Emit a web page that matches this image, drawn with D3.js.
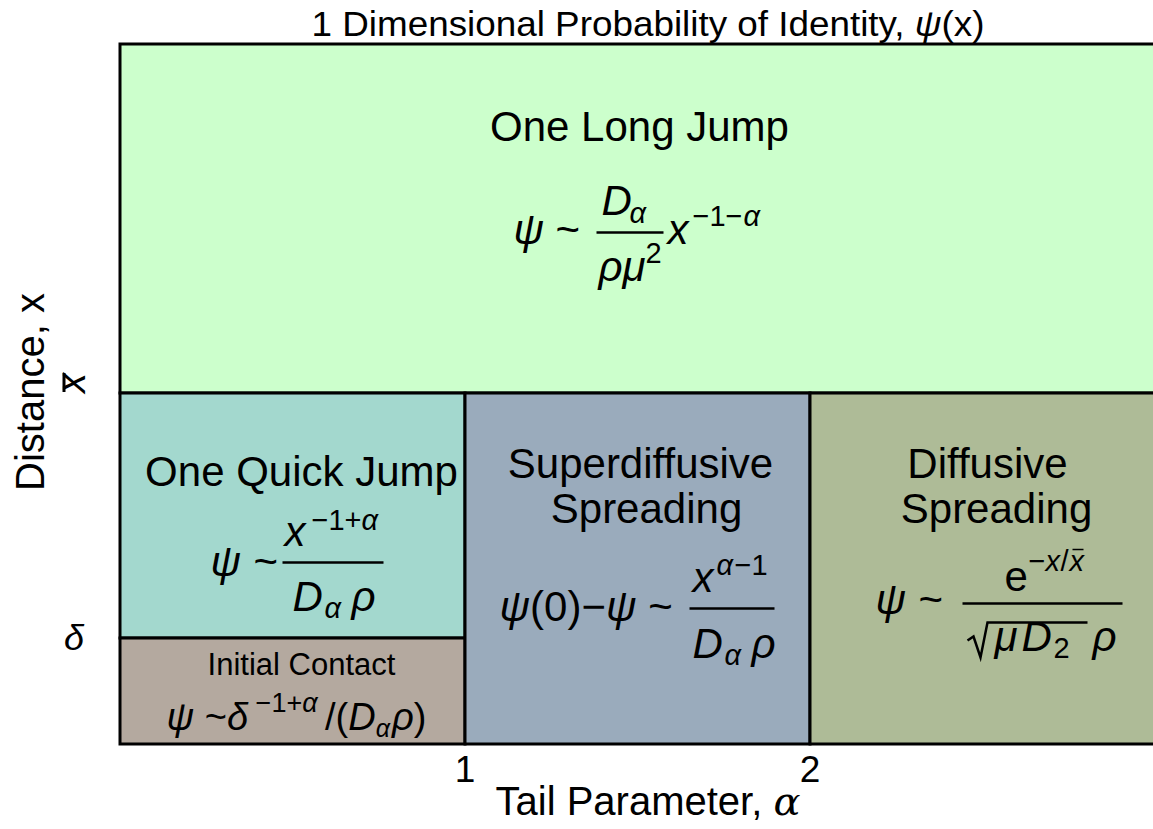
<!DOCTYPE html>
<html>
<head>
<meta charset="utf-8">
<script src="https://cdn.jsdelivr.net/npm/d3@7"></script>
<style>
  html, body { margin: 0; padding: 0; background: #fff; }
  svg text { font-family: "Liberation Sans", Arial, Helvetica, sans-serif; fill: #000; }
</style>
</head>
<body>
<svg id="chart" width="1153" height="829"></svg>
<script>
// Regime boundaries along the tail parameter (alpha) axis
const alphaBreaks = [0, 1, 2, 3];
const alphaTicks = [1, 2];
const alphaTickLabels = ["1", "2"];

// Distance levels (normalised): 0 = origin, then delta, then x-bar, then the top
const distLevels = [0, 0.1514, 0.5014, 1];
const distTickLabels = ["δ", "x̄"];

// Regimes: alpha span, distance span, fill, name lines
const regimeNames = ["One Long Jump", "One Quick Jump", "Initial Contact", "Superdiffusive Spreading", "Diffusive Spreading"];
const regimeAlpha = [[0, 3], [0, 1], [0, 1], [1, 2], [2, 3]];
const regimeDist = [[2, 3], [1, 2], [0, 1], [0, 2], [0, 2]];
const regimeFill = ["#ccffcc", "#a3d8ce", "#b4a99f", "#9aabbc", "#aebb97"];

const svg = d3.select("#chart");
const x = d3.scaleLinear().domain([alphaBreaks[0], alphaBreaks[3]]).range([120, 1155]);
const y = d3.scaleLinear().domain([0, 1]).range([744, 44]);

const regions = regimeNames.map((n, i) => ({
  name: n,
  a0: regimeAlpha[i][0], a1: regimeAlpha[i][1],
  d0: distLevels[regimeDist[i][0]], d1: distLevels[regimeDist[i][1]],
  fill: regimeFill[i]
}));

svg.append("g").selectAll("rect").data(regions).join("rect")
  .attr("x", d => x(d.a0))
  .attr("y", d => y(d.d1))
  .attr("width", d => x(d.a1) - x(d.a0))
  .attr("height", d => y(d.d0) - y(d.d1))
  .attr("fill", d => d.fill)
  .attr("stroke", "#000")
  .attr("stroke-width", 3);

// helpers for formula pieces
function t(g, px, py, str, size, opts = {}) {
  return g.append("text")
    .attr("x", px).attr("y", py)
    .attr("font-size", size)
    .attr("font-style", opts.italic ? "italic" : "normal")
    .attr("text-anchor", opts.anchor || "start")
    .text(str);
}
function hline(g, x0, x1, yy, w = 2.5) {
  g.append("line").attr("x1", x0).attr("x2", x1).attr("y1", yy).attr("y2", yy)
    .attr("stroke", "#000").attr("stroke-width", w);
}
const center = d => [ (x(d.a0) + x(d.a1)) / 2, (y(d.d0) + y(d.d1)) / 2 ];

const L = 42, F = 42, S = 29;

// One Long Jump
{
  const [cx, cy] = center(regions[0]);
  const g = svg.append("g").attr("transform", `translate(${cx},${cy})`);
  t(g, 2, -78, "One Long Jump", L, { anchor: "middle" });
  t(g, -124, 25, "ψ", F, { italic: true });
  t(g, -82, 25, "~", F);
  hline(g, -41, 26, 14);
  t(g, -36, -4, "D", F, { italic: true });
  t(g, -8, 4, "α", S, { italic: true });
  t(g, -39, 62, "ρμ", F, { italic: true });
  t(g, 8, 44, "2", S);
  t(g, 30, 25, "x", F, { italic: true });
  t(g, 55, 7, "−1−", S);
  t(g, 106, 7, "α", S, { italic: true });
}

// One Quick Jump
{
  const [cx, cy] = center(regions[1]);
  const g = svg.append("g").attr("transform", `translate(${cx},${cy})`);
  t(g, 9, -30, "One Quick Jump", L, { anchor: "middle" });
  t(g, -82, 60, "ψ", F, { italic: true });
  t(g, -39, 60, "~", F);
  hline(g, -10, 91, 47);
  t(g, -8, 30, "x", F, { italic: true });
  t(g, 19, 14, "−1+", S);
  t(g, 69, 14, "α", S, { italic: true });
  t(g, 0, 95, "D", F, { italic: true });
  t(g, 32, 102, "α", S, { italic: true });
  t(g, 59, 95, "ρ", F, { italic: true });
}

// Initial Contact
{
  const [cx, cy] = center(regions[2]);
  const g = svg.append("g").attr("transform", `translate(${cx},${cy})`);
  t(g, 9, -16, "Initial Contact", 31, { anchor: "middle" });
  const line = g.append("text").attr("x", 4).attr("y", 39).attr("font-size", 38).attr("text-anchor", "middle");
  line.append("tspan").attr("font-style", "italic").text("ψ");
  line.append("tspan").text(" ~");
  line.append("tspan").attr("font-style", "italic").text("δ");
  line.append("tspan").attr("font-size", 27).attr("dy", -18).text(" −1+");
  line.append("tspan").attr("font-size", 27).attr("font-style", "italic").text("α ");
  line.append("tspan").attr("dy", 18).text("/(");
  line.append("tspan").attr("font-style", "italic").text("D");
  line.append("tspan").attr("font-size", 25).attr("font-style", "italic").attr("dy", 7).text("α");
  line.append("tspan").attr("font-style", "italic").attr("dy", -7).attr("dx", 2).text("ρ");
  line.append("tspan").text(")");
}

// Superdiffusive Spreading
{
  const [cx, cy] = center(regions[3]);
  const g = svg.append("g").attr("transform", `translate(${cx},${cy})`);
  t(g, 3, -91, "Superdiffusive", L, { anchor: "middle" });
  t(g, 9, -46, "Spreading", L, { anchor: "middle" });
  const lhs = g.append("text").attr("x", -138).attr("y", 52).attr("font-size", F);
  lhs.append("tspan").attr("font-style", "italic").text("ψ");
  lhs.append("tspan").text("(0)−");
  lhs.append("tspan").attr("font-style", "italic").text("ψ");
  lhs.append("tspan").text(" ~");
  hline(g, 52, 137, 40);
  t(g, 55, 23, "x", F, { italic: true });
  t(g, 79, 6, "α", S, { italic: true });
  t(g, 97, 6, "−1", S);
  t(g, 55, 89, "D", F, { italic: true });
  t(g, 87, 96, "α", S, { italic: true });
  t(g, 114, 89, "ρ", F, { italic: true });
}

// Diffusive Spreading
{
  const [cx, cy] = center(regions[4]);
  const g = svg.append("g").attr("transform", `translate(${cx},${cy})`);
  t(g, 5, -91, "Diffusive", L, { anchor: "middle" });
  t(g, 14, -46, "Spreading", L, { anchor: "middle" });
  t(g, -107, 45, "ψ", F, { italic: true });
  t(g, -64, 45, "~", F);
  hline(g, -20, 140, 35);
  t(g, 22, 22, "e", F);
  t(g, 46, 2, "−", S);
  t(g, 63, 2, "x", S, { italic: true });
  t(g, 78, 2, "/", S);
  t(g, 87, 2, "x", S, { italic: true });
  hline(g, 90, 101, -19, 1.5);
  g.append("path")
    .attr("d", "M-15,72 L-9,68 L-2,89 L5,54 L105,54")
    .attr("fill", "none").attr("stroke", "#000").attr("stroke-width", 2.5);
  t(g, 12, 82, "μ", F, { italic: true });
  t(g, 39, 82, "D", F, { italic: true });
  t(g, 71, 89, "2", S);
  t(g, 110, 82, "ρ", F, { italic: true });
}

// Bottom axis: ticks and label
svg.append("g").selectAll("text").data(alphaTicks).join("text")
  .attr("x", d => x(d)).attr("y", 782)
  .attr("font-size", 37).attr("text-anchor", "middle")
  .text((d, i) => alphaTickLabels[i]);

const xl = svg.append("text").attr("x", 648).attr("y", 815).attr("font-size", 40).attr("text-anchor", "middle");
xl.append("tspan").text("Tail Parameter, ");
xl.append("tspan").attr("font-family", "DejaVu Serif, serif").attr("font-style", "italic").text("α");

// Left axis: rotated title and level labels
svg.append("text")
  .attr("transform", `translate(44,${y(0.5) - 2}) rotate(-90)`)
  .attr("font-size", 40).attr("text-anchor", "middle")
  .text("Distance, x");

svg.append("text")
  .attr("transform", `translate(85,${y(distLevels[2]) - 10}) rotate(-90)`)
  .attr("font-size", 40).attr("font-style", "italic").attr("text-anchor", "middle")
  .text("x");
svg.append("line")
  .attr("x1", 64).attr("x2", 64)
  .attr("y1", y(distLevels[2]) - 20).attr("y2", y(distLevels[2]) - 1)
  .attr("stroke", "#000").attr("stroke-width", 3);

svg.append("text")
  .attr("x", 74).attr("y", y(distLevels[1]) + 12)
  .attr("font-size", 36).attr("font-style", "italic").attr("text-anchor", "middle")
  .text(distTickLabels[0]);

// Title
const title = svg.append("text").attr("x", 648).attr("y", 36).attr("font-size", 35)
  .attr("text-anchor", "middle").attr("textLength", 673).attr("lengthAdjust", "spacingAndGlyphs");
title.append("tspan").text("1 Dimensional Probability of Identity, ");
title.append("tspan").attr("font-style", "italic").text("ψ");
title.append("tspan").text("(x)");
</script>
</body>
</html>
